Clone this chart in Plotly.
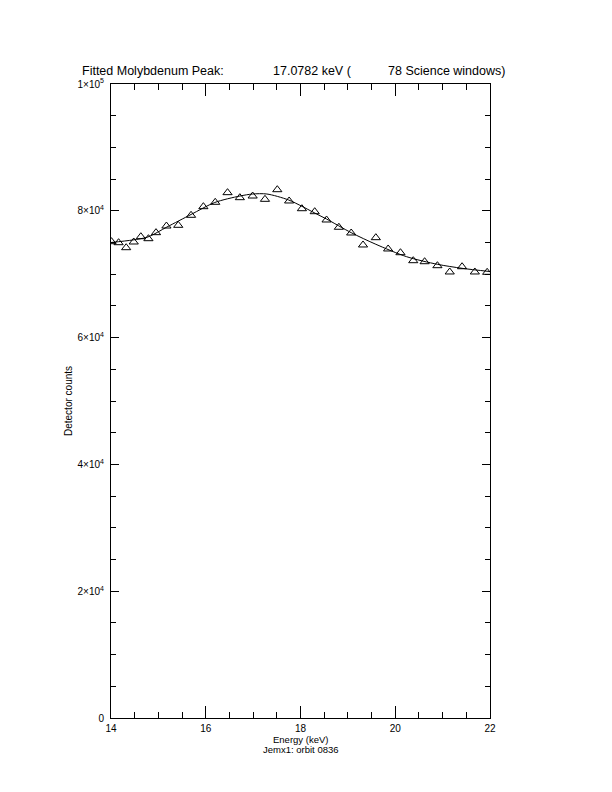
import plotly.graph_objects as go

# Measured points (energy in keV, detector counts)
energy = [14.01, 14.16, 14.32, 14.48, 14.63, 14.79, 14.95, 15.17, 15.42, 15.69,
          15.95, 16.20, 16.46, 16.72, 16.99, 17.25, 17.51, 17.76, 18.03, 18.30,
          18.55, 18.81, 19.07, 19.32, 19.59, 19.85, 20.11, 20.38, 20.62, 20.89,
          21.15, 21.41, 21.68, 21.94]
counts = [75130, 74970, 74180, 75080, 75910, 75600, 76550, 77600, 77710, 79290,
          80650, 81340, 82860, 82070, 82330, 81810, 83330, 81550, 80330, 79860,
          78550, 77400, 76500, 74610, 75760, 73980, 73390, 72130, 71970, 71340,
          70350, 71180, 70350, 70300]

# Fitted curve
fit_energy = [14.00, 14.46, 14.78, 15.18, 15.69, 16.19, 16.72, 16.99, 17.29,
              17.75, 18.34, 18.55, 19.07, 19.59, 20.24, 20.89, 21.41, 22.00]
fit_counts = [75000, 75400, 75870, 77440, 79420, 81310, 82330, 82650, 82650,
              81700, 79500, 78700, 76550, 74720, 72760, 71560, 70930, 70420]

x_tick_vals = [14, 16, 18, 20, 22]
y_tick_vals = [0, 20000, 40000, 60000, 80000, 100000]
y_tick_text = ["0", "2×10<sup>4</sup>", "4×10<sup>4</sup>", "6×10<sup>4</sup>",
               "8×10<sup>4</sup>", "1×10<sup>5</sup>"]

title_parts = ["Fitted Molybdenum Peak:", "17.0782 keV (", "78 Science windows)"]
x_title = "Energy (keV)"
x_subtitle = "Jemx1: orbit 0836"
y_title = "Detector counts"

W, H = 612, 792
# target plot-area edges on screen (pixels)
L, R, T, B = 111, 490, 84, 718
OFF = 8  # the page body adds an 8px offset


def px(x):
    return (x - L) / (R - L)


def py(y):
    return (B - y) / (B - T)


FONT = "Liberation Sans"

fig = go.Figure()
fig.add_trace(go.Scatter(x=fit_energy, y=fit_counts, mode="lines",
                         line=dict(color="black", width=1, shape="spline", smoothing=0.8),
                         hoverinfo="skip", showlegend=False))
fig.add_trace(go.Scatter(x=energy, y=counts, mode="markers",
                         marker=dict(symbol="triangle-up-open", size=8, color="black",
                                     line=dict(color="black", width=1)),
                         showlegend=False, cliponaxis=True))

annotations = []
for text, xl, fs in zip(title_parts, [80, 271, 386], [12.5, 12.5, 12.5]):
    annotations.append(dict(text=text, x=px(xl), y=py(71.5), xref="paper", yref="paper",
                            xanchor="left", yanchor="middle", showarrow=False,
                            font=dict(family=FONT, size=fs, color="black")))
annotations.append(dict(text=x_title, x=0.5, y=py(739), xref="paper", yref="paper",
                        xanchor="center", yanchor="middle", showarrow=False,
                        font=dict(family=FONT, size=9.5, color="black")))
annotations.append(dict(text=x_subtitle, x=0.5, y=py(750), xref="paper", yref="paper",
                        xanchor="center", yanchor="middle", showarrow=False,
                        font=dict(family=FONT, size=9.5, color="black")))
annotations.append(dict(text=y_title, x=px(68), y=0.5, xref="paper", yref="paper",
                        xanchor="center", yanchor="middle", showarrow=False, textangle=-90,
                        font=dict(family=FONT, size=10, color="black")))

fig.update_layout(
    width=W, height=H, autosize=False,
    margin=dict(l=L - OFF, r=W - R + OFF, t=T - OFF, b=H - B + OFF, pad=0),
    paper_bgcolor="white", plot_bgcolor="white",
    font=dict(family=FONT, size=10, color="black"),
    annotations=annotations,
    xaxis=dict(range=[14, 22], showgrid=False, zeroline=False, showline=True,
               linecolor="black", linewidth=1, mirror="ticks", ticks="inside",
               ticklen=12, tickwidth=1, tickcolor="black", tickvals=x_tick_vals,
               ticklabelstandoff=1,
               tickfont=dict(family=FONT, size=10, color="black"),
               minor=dict(ticks="inside", ticklen=6, dtick=0.5, tickcolor="black",
                          tickwidth=1, showgrid=False)),
    yaxis=dict(range=[0, 100000], showgrid=False, zeroline=False, showline=True,
               linecolor="black", linewidth=1, mirror="ticks", ticks="inside",
               ticklen=8, tickwidth=1, tickcolor="black", tickvals=y_tick_vals,
               ticktext=y_tick_text, ticklabelstandoff=4,
               tickfont=dict(family=FONT, size=10, color="black"),
               minor=dict(ticks="inside", ticklen=5, dtick=5000, tickcolor="black",
                          tickwidth=1, showgrid=False)),
)

fig.write_html("out.html")
